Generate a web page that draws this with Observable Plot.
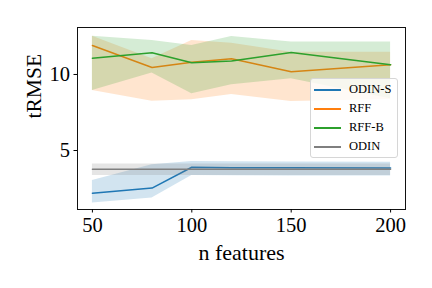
<!DOCTYPE html>
<html><head><meta charset="utf-8">
<script src="https://cdn.jsdelivr.net/npm/d3@7"></script>
<script src="https://cdn.jsdelivr.net/npm/@observablehq/plot@0.6"></script>
<style>
body{margin:0;background:#fff;}
#wrap{position:relative;width:432px;height:288px;}
#legend{position:absolute;left:310px;top:78px;width:88px;height:80px;background:rgba(255,255,255,0.8);border:1px solid #d6d6d6;border-radius:3px;box-sizing:border-box;font-family:"Liberation Serif",serif;font-size:12.5px;color:#000;}
.item{position:absolute;left:0;height:19px;width:100%;}
.sw{position:absolute;left:3px;top:9px;width:27px;height:0;border-top:2px solid;}
.lab{position:absolute;left:38px;top:1px;line-height:17px;}
</style></head>
<body><div id="wrap"><div id="chart"></div><div id="legend"></div></div>
<script>
const nFeatures = [50, 80, 100, 120, 150, 200];
const xTicks = [50, 100, 150, 200];
const yTicks = [5, 10];

const seriesNames = ["ODIN-S", "RFF", "RFF-B", "ODIN"];
const seriesColors = ["#1f77b4", "#ff7f0e", "#2ca02c", "#7f7f7f"];

const odinSMean = [2.19, 2.53, 3.90, 3.87, 3.86, 3.85];
const odinSLow  = [1.55, 1.88, 3.36, 3.34, 3.33, 3.33];
const odinSHigh = [3.03, 4.06, 4.28, 4.26, 4.24, 4.22];

const rffMean = [11.91, 10.46, 10.81, 11.03, 10.18, 10.64];
const rffLow  = [8.95, 8.24, 8.34, 8.68, 8.22, 8.35];
const rffHigh = [12.52, 11.03, 12.24, 12.06, 11.47, 11.47];

const rffBMean = [11.07, 11.43, 10.77, 10.88, 11.45, 10.64];
const rffBLow  = [8.95, 10.09, 8.73, 9.32, 9.72, 8.40];
const rffBHigh = [12.52, 12.24, 11.91, 12.50, 12.13, 12.13];

const odinMean = [3.77, 3.77, 3.77, 3.77, 3.77, 3.77];
const odinLow  = [3.36, 3.36, 3.36, 3.36, 3.36, 3.36];
const odinHigh = [4.12, 4.12, 4.12, 4.12, 4.12, 4.12];

const means = [odinSMean, rffMean, rffBMean, odinMean];
const lows = [odinSLow, rffLow, rffBLow, odinLow];
const highs = [odinSHigh, rffHigh, rffBHigh, odinHigh];

const tables = seriesNames.map((name, s) => nFeatures.map((x, i) => ({
  x, mean: means[s][i], lo: lows[s][i], hi: highs[s][i], name
})));

const marks = [];
tables.forEach((t, s) => {
  marks.push(Plot.areaY(t, {x: "x", y1: "lo", y2: "hi", fill: seriesColors[s], fillOpacity: 0.2}));
  marks.push(Plot.line(t, {x: "x", y: "mean", stroke: seriesColors[s], strokeWidth: 1.5}));
});

const font = "Liberation Serif";
const chart = Plot.plot({
  width: 432, height: 288,
  marginLeft: 77, marginRight: 27, marginTop: 27, marginBottom: 79,
  style: {fontFamily: font, fontSize: "20px", background: "#fff", color: "#000"},
  x: {domain: [42.5, 207.5]},
  y: {domain: [1.12, 13.09]},
  marks: [
    ...marks,
    Plot.frame({stroke: "#111", strokeWidth: 1}),
    Plot.axisX({ticks: xTicks, tickSize: 3.5, tickPadding: 4, label: null, fontSize: 20.5, fontFamily: font}),
    Plot.axisY({ticks: yTicks, tickSize: 3.5, tickPadding: 4, label: null, fontSize: 20.5, fontFamily: font, tickFormat: d => String(d)}),
    Plot.text(["n features"], {frameAnchor: "bottom", dy: 43, fontSize: 22, fontFamily: font, lineAnchor: "middle"}),
    Plot.text(["tRMSE"], {frameAnchor: "left", dx: -43, rotate: -90, fontSize: 21.5, fontFamily: font, lineAnchor: "middle"})
  ]
});
document.getElementById("chart").appendChild(chart);

const legend = document.getElementById("legend");
seriesNames.forEach((name, s) => {
  const it = document.createElement("div");
  it.className = "item";
  it.style.top = (1 + s * 19) + "px";
  const sw = document.createElement("div");
  sw.className = "sw"; sw.style.borderColor = seriesColors[s];
  const lb = document.createElement("div");
  lb.className = "lab"; lb.textContent = name;
  it.appendChild(sw); it.appendChild(lb);
  legend.appendChild(it);
});
</script></body></html>
